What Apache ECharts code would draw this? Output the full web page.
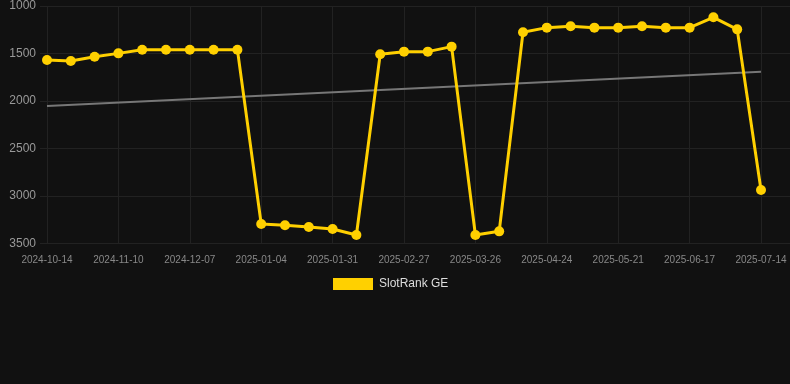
<!DOCTYPE html>
<html><head><meta charset="utf-8">
<script src="https://cdn.jsdelivr.net/npm/echarts@6/dist/echarts.min.js"></script>
<style>html,body{margin:0;padding:0;background:#111111;}#c{width:790px;height:384px;}</style>
</head><body><div id="c"></div>
<script>
const categories = ["2024-10-14","2024-10-23","2024-11-01","2024-11-10","2024-11-19","2024-11-28","2024-12-07","2024-12-16","2024-12-25","2025-01-04","2025-01-13","2025-01-22","2025-01-31","2025-02-09","2025-02-18","2025-02-27","2025-03-08","2025-03-17","2025-03-26","2025-04-04","2025-04-14","2025-04-24","2025-05-03","2025-05-12","2025-05-21","2025-05-30","2025-06-08","2025-06-17","2025-06-26","2025-07-05","2025-07-14"];
const rankValues = [1569,1579,1534,1499,1460,1460,1460,1460,1460,3296,3310,3328,3349,3412,1509,1481,1481,1428,3412,3374,1277,1228,1214,1228,1228,1214,1228,1228,1119,1246,2938];
const trendStart = 2053;
const trendEnd = 1692;

const chart = echarts.init(document.getElementById('c'), null, {renderer:'canvas'});
const trendData = categories.map((c,i)=> i===0 ? trendStart : (i===categories.length-1 ? trendEnd : null));
chart.setOption({
  backgroundColor:'#111111',
  animation:false,
  legend:{
    top:278, left:333, padding:0,
    icon:'rect', itemWidth:40, itemHeight:12, itemGap:10,
    data:['SlotRank GE'],
    textStyle:{color:'#dddddd', fontSize:12, padding:[0,0,0,1], fontFamily:'Liberation Sans, Arial, sans-serif'}
  },
  grid:[
    {left:47, right:29, top:6, bottom:140.7, containLabel:false},
    {left:40, right:0, top:6, bottom:140.7, containLabel:false}
  ],
  xAxis:[
    {type:'category', gridIndex:0, data:categories, boundaryGap:false,
     axisLine:{show:false}, axisTick:{show:false},
     axisLabel:{interval:2, color:'#888888', fontSize:10, margin:12, fontFamily:'Liberation Sans, Arial, sans-serif'},
     splitLine:{show:true, interval:2, lineStyle:{color:'#222222', width:1}}},
    {type:'value', gridIndex:1, show:false, min:0, max:1}
  ],
  yAxis:[
    {type:'value', gridIndex:0, inverse:true, min:1000, max:3500, interval:500,
     axisLine:{show:false}, axisTick:{show:false},
     axisLabel:{color:'#999999', fontSize:12, margin:11, formatter:(v)=>String(v), fontFamily:'Liberation Sans, Arial, sans-serif'},
     splitLine:{show:false}},
    {type:'value', gridIndex:1, inverse:true, min:1000, max:3500, interval:500,
     axisLine:{show:false}, axisTick:{show:false}, axisLabel:{show:false},
     splitLine:{show:true, lineStyle:{color:'#222222', width:1}}}
  ],
  series:[
    {name:'Trend', type:'line', xAxisIndex:0, yAxisIndex:0, data:trendData, connectNulls:true,
     symbol:'none', lineStyle:{color:'#777777', width:2}, z:2, silent:true},
    {name:'SlotRank GE', type:'line', xAxisIndex:0, yAxisIndex:0, data:rankValues,
     symbol:'circle', symbolSize:10, itemStyle:{color:'#FFD000'},
     lineStyle:{color:'#FFD000', width:3}, z:3}
  ]
});
</script></body></html>
